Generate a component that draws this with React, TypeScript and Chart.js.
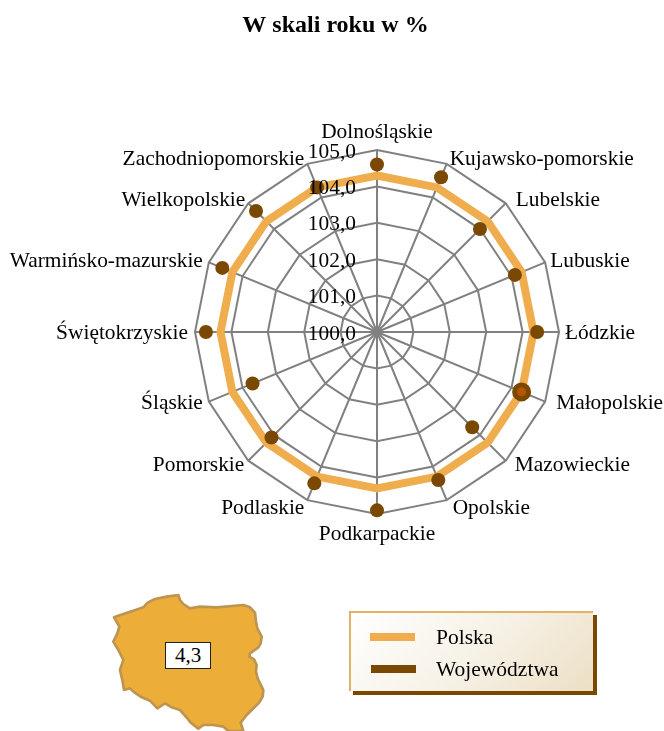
import React, { useEffect, useRef } from "react";
import { Chart, registerables } from "chart.js";

Chart.register(...registerables);

const FONT = '"Liberation Serif", "Times New Roman", serif';

const regions = [
  "Dolnośląskie", "Kujawsko-pomorskie", "Lubelskie", "Lubuskie", "Łódzkie", "Małopolskie",
  "Mazowieckie", "Opolskie", "Podkarpackie", "Podlaskie", "Pomorskie", "Śląskie",
  "Świętokrzyskie", "Warmińsko-mazurskie", "Wielkopolskie", "Zachodniopomorskie",
];
const polska = [104.3, 104.3, 104.3, 104.3, 104.3, 104.3, 104.3, 104.3, 104.3, 104.3, 104.3, 104.3, 104.3, 104.3, 104.3, 104.3];
const wojewodztwa = [104.6, 104.6, 104.0, 104.1, 104.4, 104.3, 103.7, 104.4, 104.9, 104.5, 104.1, 103.7, 104.7, 104.6, 104.7, 104.3];
const highlighted = "Małopolskie";
const title = "W skali roku w %";
const mapValue = "4,3";
const seriesNames = ["Polska", "Województwa"];

// label nudges from the outer ring point, in px (layout only)
const labelDx = [0, 3, 10, 5, 6, 11, 9, 6, 0, -3, -4, -6, -7, -6, -3, -3];
const labelDy = [-18, -4, -3, -1, 1, 2, 5, 8, 20, 8, 5, 2, 1, -1, -3, -4];

const ORANGE = "#efad4d";
const BROWN = "#7a4800";

const labelsPlugin = {
  id: "radarText",
  afterDatasetsDraw(chart: any) {
    const scale = chart.scales.r;
    const ctx = chart.ctx;
    ctx.save();
    ctx.fillStyle = "#000";
    ctx.font = `21.4px ${FONT}`;
    ctx.textBaseline = "middle";
    chart.data.labels.forEach((label: string, i: number) => {
      const p = scale.getPointPosition(i, scale.drawingArea);
      const dx = labelDx[i];
      ctx.textAlign = dx === 0 ? "center" : dx > 0 ? "left" : "right";
      ctx.fillText(label, p.x + dx, p.y + labelDy[i]);
    });
    ctx.textAlign = "right";
    scale.ticks.forEach((t: any) => {
      const y = scale.getPointPositionForValue(0, t.value).y;
      ctx.fillText(t.value.toFixed(1).replace(".", ","), scale.xCenter - 21, y + 2);
    });
    ctx.restore();
  },
};

// Outline of Poland, hand traced (decoration), in 3x crop units
const mapPath =
  "M42 82 L70 72 L100 62 L130 52 L143 38 L165 27 L200 20 L235 15 L240 30 L250 42 L270 55 L300 50 L350 52 L430 45 L450 52 L465 68 L468 95 L472 115 L485 140 L482 160 L475 172 L450 190 L448 200 L462 208 L470 225 L468 245 L473 265 L490 300 L488 320 L478 337 L455 360 L440 375 L422 398 L430 423 L385 423 L370 410 L340 405 L310 405 L295 416 L272 398 L262 385 L240 360 L215 352 L195 340 L172 355 L150 332 L122 320 L100 305 L90 295 L72 300 L68 275 L60 240 L70 210 L55 180 L40 155 L52 130 L58 110 Z";

export default function App() {
  const ref = useRef<HTMLCanvasElement>(null);
  useEffect(() => {
    const chart = new Chart(ref.current as HTMLCanvasElement, {
      type: "radar",
      data: {
        labels: regions,
        datasets: [
          {
            label: seriesNames[0],
            data: polska,
            borderColor: ORANGE,
            backgroundColor: "transparent",
            borderWidth: 8,
            pointRadius: 0,
            fill: false,
            order: 2,
          },
          {
            label: seriesNames[1],
            data: wojewodztwa,
            showLine: false,
            fill: false,
            order: 1,
            pointStyle: "circle",
            pointRadius: regions.map((r) => (r === highlighted ? 7 : 7)),
            pointBorderWidth: regions.map((r) => (r === highlighted ? 5 : 0)),
            pointBackgroundColor: regions.map((r) => (r === highlighted ? "#b85500" : BROWN)),
            pointBorderColor: BROWN,
          },
        ],
      },
      options: {
        responsive: false,
        animation: false,
        layout: { padding: { left: 7 } },
        plugins: {
          legend: { display: false },
          tooltip: { enabled: false },
          title: {
            display: true,
            text: title,
            color: "#000",
            font: { family: FONT, size: 24, weight: "bold" },
            padding: { top: 11, bottom: 20 },
          },
        },
        scales: {
          r: {
            min: 100,
            max: 105,
            ticks: { stepSize: 1, display: false },
            pointLabels: { display: false },
            grid: { color: "#808080", lineWidth: 2, circular: false },
            angleLines: { color: "#808080", lineWidth: 2 },
            border: { display: false },
            afterFit(scale: any) {
              scale.xCenter = 377;
              scale.yCenter = 332;
              scale.drawingArea = 182;
            },
          },
        },
      } as any,
      plugins: [labelsPlugin],
    });
    return () => chart.destroy();
  }, []);

  return (
    <div style={{ position: "absolute", left: 0, top: 0, width: 664, height: 731, overflow: "hidden", background: "#fff", fontFamily: FONT, color: "#000" }}>
      <canvas ref={ref} width={664} height={731} style={{ display: "block" }} />
      <svg width={180} height={141} viewBox="0 0 540 423" style={{ position: "absolute", left: 100, top: 590 }}>
        <path d={mapPath} fill="#edae39" stroke="#bd9550" strokeWidth={8} strokeLinejoin="round" />
      </svg>
      <div style={{ position: "absolute", left: 165, top: 642, width: 44, height: 25, border: "1px solid #222", background: "#fff", fontSize: 21, lineHeight: "25px", textAlign: "center" }}>
        {mapValue}
      </div>
      <div style={{ position: "absolute", left: 349, top: 611, width: 244, height: 80, boxSizing: "border-box", borderTop: "2px solid #e3b26a", borderLeft: "2px solid #e3b26a", background: "linear-gradient(135deg, #ffffff 0%, #f7f2e7 50%, #ecdfc4 100%)", boxShadow: `4px 4px 0 ${BROWN}` }} />
      <div style={{ position: "absolute", left: 370, top: 633, width: 45, height: 8, background: ORANGE }} />
      <div style={{ position: "absolute", left: 371, top: 665, width: 45, height: 8, background: BROWN }} />
      <div style={{ position: "absolute", left: 436, top: 624, fontSize: 21.5, lineHeight: "26px" }}>{seriesNames[0]}</div>
      <div style={{ position: "absolute", left: 436, top: 656, fontSize: 21.5, lineHeight: "26px" }}>{seriesNames[1]}</div>
    </div>
  );
}
